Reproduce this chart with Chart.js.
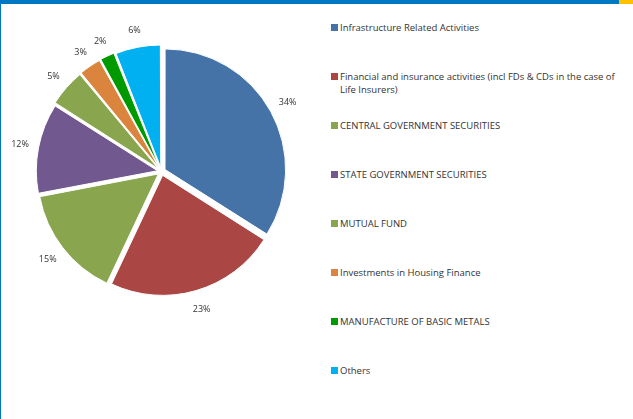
<!DOCTYPE html>
<html>
<head>
<meta charset="utf-8">
<script src="https://cdn.jsdelivr.net/npm/chart.js@4"></script>
<style>
    body { margin: 0; background: #fff; }
    #marco {
        position: relative; width: 633px; height: 419px; overflow: hidden;
        background: #fff; box-sizing: border-box;
        border-left: 1px solid #0078c1;
        font-family: "Open Sans", sans-serif; color: #333;
    }
    #barra { position: absolute; left: 0; top: 0; width: 633px; height: 4px; background: #0078c1; }
    #barra2 { position: absolute; left: 618px; top: 0; width: 15px; height: 4px; background: #ffc000; }
    #grafico { position: absolute; left: 0; top: 2px; width: 330px; height: 350px; }
    #leyenda { position: absolute; left: 330px; top: 0; }
    .item { position: absolute; left: 0; width: 282px; font-size: 9.5px; line-height: 13px; padding-left: 9px; }
    .cuadro { position: absolute; left: 0; top: 3px; width: 7px; height: 7px; }
</style>
</head>
<body>
<div id="marco">
    <div id="barra"></div>
    <div id="barra2"></div>
    <div id="grafico"><canvas id="chartSectores"></canvas></div>
    <div id="leyenda"></div>
</div>
<script>
// Datos del gráfico
const categorias = [
    'Infrastructure Related Activities',
    'Financial and insurance activities (incl FDs & CDs in the case of Life Insurers)',
    'CENTRAL GOVERNMENT SECURITIES',
    'STATE GOVERNMENT SECURITIES',
    'MUTUAL FUND',
    'Investments in Housing Finance',
    'MANUFACTURE OF BASIC METALS',
    'Others'
];
const porcentajes = [34, 23, 15, 12, 5, 3, 2, 6];
const colores = ['#4572a7', '#aa4643', '#89a54e', '#71588f', '#89a54e', '#db843d', '#009a00', '#00b0f0'];

// Etiquetas de porcentaje fuera del sector
const etiquetasFuera = {
    id: 'etiquetasFuera',
    afterDatasetsDraw(chart) {
        const ctx = chart.ctx;
        const meta = chart.getDatasetMeta(0);
        ctx.save();
        ctx.font = '9px "Open Sans", sans-serif';
        ctx.fillStyle = '#333';
        ctx.textAlign = 'center';
        ctx.textBaseline = 'middle';
        meta.data.forEach((arco, i) => {
            const { x, y, startAngle, endAngle, outerRadius } = arco.getProps(['x', 'y', 'startAngle', 'endAngle', 'outerRadius'], true);
            const medio = (startAngle + endAngle) / 2;
            const r = outerRadius + 24;
            ctx.fillText(porcentajes[i] + '%', x + Math.cos(medio) * r, y + Math.sin(medio) * r);
        });
        ctx.restore();
    }
};

const crearGrafico = () => {
    const ctx = document.getElementById('chartSectores').getContext('2d');
    new Chart(ctx, {
        type: 'pie',
        data: {
            labels: categorias,
            datasets: [{
                data: porcentajes,
                backgroundColor: colores,
                borderColor: '#ffffff',
                borderWidth: 1,
                offset: 16
            }]
        },
        options: {
            responsive: true,
            maintainAspectRatio: false,
            animation: false,
            layout: { padding: { left: 32, top: 41, right: 41, bottom: 52 } },
            plugins: {
                legend: { display: false },
                tooltip: { enabled: false }
            }
        },
        plugins: [etiquetasFuera]
    });
};

// Leyenda a la derecha
const crearLeyenda = () => {
    const cont = document.getElementById('leyenda');
    categorias.forEach((cat, i) => {
        const item = document.createElement('div');
        item.className = 'item';
        item.style.top = (21 + i * 49) + 'px';
        item.innerHTML = `<span class="cuadro" style="background:${colores[i]}"></span>`;
        item.appendChild(document.createTextNode(cat));
        cont.appendChild(item);
    });
};

crearLeyenda();
crearGrafico();
</script>
</body>
</html>
